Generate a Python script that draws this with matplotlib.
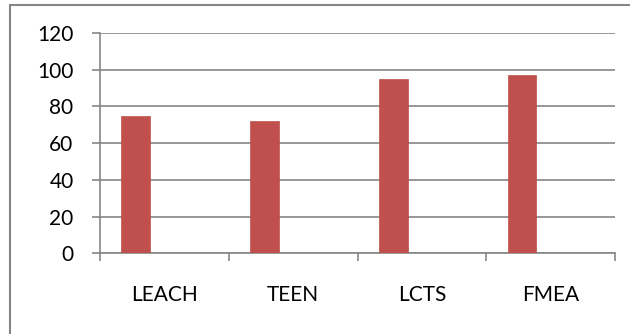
import matplotlib.pyplot as plt
import numpy as np
from matplotlib.patches import Rectangle

# protocol comparison values
protocols = ['LEACH', 'TEEN', 'LCTS', 'FMEA']
values = [75, 72, 95, 97]
yticks = [0, 20, 40, 60, 80, 100, 120]

plt.rcParams['font.family'] = ['Lato', 'DejaVu Sans']
grey = '#868686'

fig = plt.figure(figsize=(6.3, 3.34), dpi=100)
ax = fig.add_axes([100 / 630, 80.7 / 334, 515 / 630, 220.3 / 334])

# outer chart frame (runs off the right and bottom edge)
fig.patches.append(Rectangle((10 / 630, -0.1), 1.0, (334 - 5) / 334 + 0.1,
                             transform=fig.transFigure, fill=False,
                             edgecolor=grey, linewidth=1.5))

x = np.arange(len(protocols))
w = 1 / 4.5
ax.bar(x - w, values, width=w, color='#C0504D', edgecolor='#C0504D',
       linewidth=0.5, zorder=3)

ax.set_xlim(-0.5, len(protocols) - 0.5)
ax.set_ylim(0, 120)
ax.set_yticks(yticks)
ax.yaxis.grid(True, color=grey, linewidth=1.2)
ax.set_axisbelow(True)

for s in ['top', 'right']:
    ax.spines[s].set_visible(False)
for s in ['left', 'bottom']:
    ax.spines[s].set_color(grey)
    ax.spines[s].set_linewidth(1.2)

# category boundaries as major ticks, names on minor ticks
ax.set_xticks(np.arange(len(protocols) + 1) - 0.5)
ax.set_xticklabels([])
ax.set_xticks(x, minor=True)
ax.set_xticklabels(protocols, minor=True, fontsize=15)
ax.tick_params(axis='x', which='major', length=6, width=1.2, color=grey)
ax.tick_params(axis='x', which='minor', length=0, pad=23)
ax.tick_params(axis='y', length=6, width=1.2, color=grey, pad=13, labelsize=15)

fig.savefig('out.png', dpi=100)
